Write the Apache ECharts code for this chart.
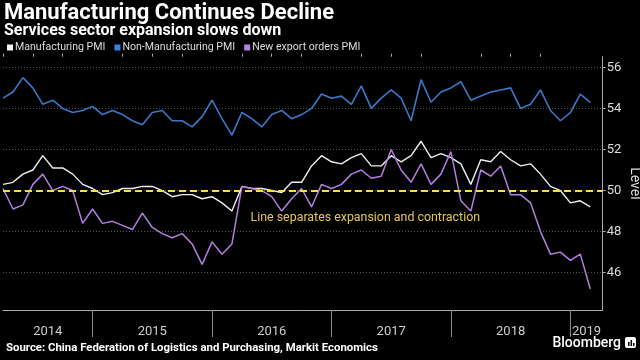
<!DOCTYPE html>
<html>
<head>
<meta charset="utf-8">
<script src="https://cdn.jsdelivr.net/npm/echarts@6/dist/echarts.min.js"></script>
<style>html,body{margin:0;padding:0;background:#000;}#c{width:640px;height:360px;}</style>
</head>
<body>
<div id="c"></div>
<script>
// Months (month-end observations)
const months = [
 '2014-03','2014-04','2014-05','2014-06','2014-07','2014-08','2014-09','2014-10','2014-11','2014-12',
 '2015-01','2015-02','2015-03','2015-04','2015-05','2015-06','2015-07','2015-08','2015-09','2015-10','2015-11','2015-12',
 '2016-01','2016-02','2016-03','2016-04','2016-05','2016-06','2016-07','2016-08','2016-09','2016-10','2016-11','2016-12',
 '2017-01','2017-02','2017-03','2017-04','2017-05','2017-06','2017-07','2017-08','2017-09','2017-10','2017-11','2017-12',
 '2018-01','2018-02','2018-03','2018-04','2018-05','2018-06','2018-07','2018-08','2018-09','2018-10','2018-11','2018-12',
 '2019-01','2019-02'
];
const manufacturing = [
 50.3,50.4,50.8,51.0,51.7,51.1,51.1,50.8,50.3,50.1,
 49.8,49.9,50.1,50.1,50.2,50.2,50.0,49.7,49.8,49.8,49.6,49.7,
 49.4,49.0,50.2,50.1,50.1,50.0,49.9,50.4,50.4,51.2,51.7,51.4,
 51.3,51.6,51.8,51.2,51.2,51.7,51.4,51.7,52.4,51.6,51.8,51.6,
 51.3,50.3,51.5,51.4,51.9,51.5,51.2,51.3,50.8,50.2,50.0,49.4,
 49.5,49.2
];
const nonManufacturing = [
 54.5,54.8,55.5,55.0,54.2,54.4,54.0,53.8,53.9,54.1,
 53.7,53.9,53.7,53.4,53.2,53.8,53.9,53.4,53.4,53.1,53.6,54.4,
 53.5,52.7,53.8,53.5,53.1,53.7,53.9,53.5,53.7,54.0,54.7,54.5,
 54.6,54.2,55.1,54.0,54.5,54.9,54.5,53.4,55.4,54.3,54.8,55.0,
 55.3,54.4,54.6,54.8,54.9,55.0,54.0,54.2,54.9,53.9,53.4,53.8,
 54.7,54.3
];
const newExportOrders = [
 50.1,49.1,49.3,50.3,50.8,50.0,50.2,50.0,48.4,49.1,
 48.4,48.5,48.3,48.1,48.9,48.2,47.9,47.7,47.9,47.4,46.4,47.5,
 46.9,47.4,50.2,50.1,50.0,49.7,49.0,49.6,50.1,49.2,50.3,50.1,
 50.3,50.8,51.0,50.6,50.7,52.0,51.0,50.4,51.3,50.3,50.8,51.9,
 49.5,49.0,51.0,50.7,51.2,49.8,49.8,49.4,48.0,46.9,47.0,46.6,
 46.9,45.2
];
const yearLabels = ['2014','2015','2016','2017','2018','2019'];
const yTicks = [46,48,50,52,54,56];

// month-end position in months since end of 2013
function mPos(s){ const p = s.split('-'); return (+p[0]-2014)*12 + (+p[1]); }
const yearBoundaries = [12,24,36,48,60];
const quarterTicks = [3,6,9,15,18,21,27,30,33,39,42,45,51,54,57];
const X_MIN = 3, X_MAX = 63.25;
const yearCenters = [ (X_MIN+12)/2, 18, 30, 42, 54, (60+X_MAX)/2 ];

function pts(arr){ return arr.map((v,i)=>[mPos(months[i]), v]); }

const chart = echarts.init(document.getElementById('c'), null, {renderer:'canvas'});
const FONT = 'Roboto';
chart.setOption({
  backgroundColor:'#000',
  animation:false,
  title:[
    {text:'Manufacturing Continues Decline', left:4, top:2, padding:0,
     textStyle:{color:'#fff', fontSize:22, fontWeight:'bold', fontFamily:FONT}},
    {text:'Services sector expansion slows down', left:4, top:23, padding:0,
     textStyle:{color:'#fff', fontSize:16, fontWeight:'bold', fontFamily:FONT}},
    {text:'Source: China Federation of Logistics and Purchasing, Markit Economics', left:6, top:343, padding:0,
     textStyle:{color:'#fff', fontSize:11.4, fontWeight:'bold', fontFamily:FONT}},
    {text:'Bloomberg', right:19, top:336, padding:0,
     textStyle:{color:'#fff', fontSize:14, fontWeight:500, fontFamily:FONT}}
  ],
  graphic:[
    {type:'rect', left:625, top:337, shape:{width:11, height:11, r:2}, style:{fill:'#fff'}},
    {type:'rect', left:628, top:342, shape:{width:1.5, height:4}, style:{fill:'#000'}},
    {type:'rect', left:630.5, top:340, shape:{width:1.5, height:6}, style:{fill:'#000'}},
    {type:'rect', left:633, top:343, shape:{width:1.5, height:3}, style:{fill:'#000'}}
  ],
  legend:{
    left:7, top:42, padding:0, itemGap:9, itemWidth:6, itemHeight:6, icon:'rect',
    textStyle:{color:'#ddd', fontSize:10.6, fontFamily:FONT, padding:[0,0,0,-3]},
    data:['Manufacturing PMI','Non-Manufacturing PMI','New export orders PMI']
  },
  grid:{left:3, right:37.3, top:56.7, bottom:50, containLabel:false, outerBoundsMode:'none'},
  xAxis:[
    {type:'value', min:X_MIN, max:X_MAX,
     axisLine:{show:true, lineStyle:{color:'#aaa', width:1}},
     axisTick:{show:true, customValues:yearBoundaries, length:27, lineStyle:{color:'#888'}},
     axisLabel:{show:true, customValues:yearCenters, margin:15, color:'#ccc', fontSize:13, fontFamily:FONT,
       formatter:(v)=>{ const i = yearCenters.indexOf(v); return i>=0 ? yearLabels[i] : ''; }},
     splitLine:{show:false}},
    {type:'value', min:X_MIN, max:X_MAX,
     axisLine:{show:false},
     axisTick:{show:true, customValues:quarterTicks, length:3, lineStyle:{color:'#aaa'}},
     axisLabel:{show:false}, splitLine:{show:false}}
  ],
  yAxis:{
    type:'value', position:'right', min:44.18, max:56.52,
    name:'Level', nameLocation:'middle', nameRotate:-90, nameGap:25, nameMoveOverlap:false,
    nameTextStyle:{color:'#ddd', fontSize:14, fontFamily:FONT},
    axisLine:{show:true, lineStyle:{color:'#aaa', width:1}},
    axisTick:{show:true, customValues:yTicks, length:3, lineStyle:{color:'#aaa'}},
    axisLabel:{show:true, customValues:yTicks, margin:4, color:'#ddd', fontSize:13, fontFamily:FONT},
    splitLine:{show:true, lineStyle:{color:'#555', type:[1,2], width:1}}
  },
  series:[
    {name:'Non-Manufacturing PMI', type:'line', data:pts(nonManufacturing), showSymbol:false,
     color:'#3a7fe0', lineStyle:{width:1.6, color:'#3a78c8'}},
    {name:'Manufacturing PMI', type:'line', data:pts(manufacturing), showSymbol:false,
     color:'#f2f2f2', lineStyle:{width:1.4, color:'#eeeeee'},
     markLine:{silent:true, symbol:'none', label:{show:false},
       lineStyle:{color:'#f3e14b', type:[7,4], width:2},
       data:[{yAxis:50}]}},
    {name:'New export orders PMI', type:'line', data:pts(newExportOrders), showSymbol:false,
     color:'#b783e8', lineStyle:{width:1.5, color:'#b07fe0'},
     markPoint:{silent:true, symbol:'circle', symbolSize:1, itemStyle:{color:'rgba(0,0,0,0)'},
       label:{show:true, position:'inside', color:'#e3c84a', fontSize:12.4, fontFamily:FONT,
         formatter:'Line separates expansion and contraction'},
       data:[{coord:[39.4, 48.66]}]}}
  ]
});
</script>
</body>
</html>
